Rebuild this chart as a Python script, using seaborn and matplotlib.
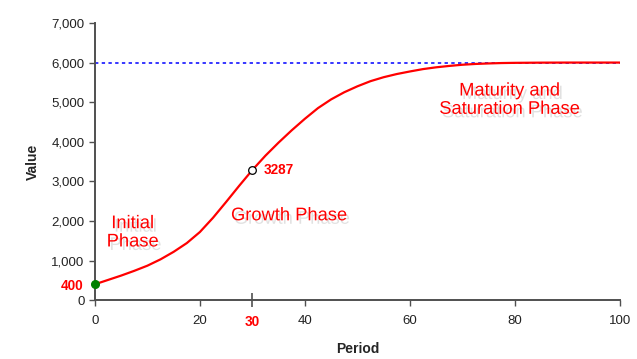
import numpy as np
import pandas as pd
import matplotlib
matplotlib.use('Agg')
import matplotlib.pyplot as plt
import matplotlib.patheffects as pe
from matplotlib.ticker import FuncFormatter
import seaborn as sns

# values
periods = [0, 2.5, 5, 7.5, 10, 12.5, 15, 17.5, 20, 22.5, 25, 27.5, 30,
           32.5, 35, 37.5, 40, 42.5, 45, 47.5, 50, 52.5, 55, 57.5, 60,
           62.5, 65, 67.5, 70, 72.5, 75, 77.5, 80, 85, 90, 95, 100]
values = [400, 510, 620, 740, 870, 1030, 1220, 1440, 1720, 2080, 2480, 2890, 3287,
          3650, 3980, 4290, 4580, 4850, 5070, 5250, 5400, 5530, 5630, 5710, 5775,
          5835, 5880, 5915, 5945, 5965, 5978, 5988, 5993, 5998, 6000, 6000, 6000]
saturation = 6000
start_period, start_value = 0, 400
mid_period, mid_value = 30, 3287

phase_labels = ["Initial\nPhase", "Growth Phase", "Maturity and\nSaturation Phase"]
phase_pos = [(7.2, 1700), (37, 2130), (79, 5050)]

sns.set_theme(style='white')
plt.rcParams['font.family'] = ['Liberation Sans', 'DejaVu Sans']

df = pd.DataFrame({'period': periods, 'value': values})

fig = plt.figure(figsize=(6.37, 3.59), dpi=100)
ax = fig.add_axes([0.149, 0.164, 0.824, 0.772])

sns.lineplot(data=df, x='period', y='value', color='red', linewidth=1.6, ax=ax)
ax.axhline(saturation, color='#0000ff', linestyle=(0, (2.2, 2.2)), linewidth=1.1, zorder=1)

ax.plot([start_period], [start_value], 'o', color='#008000', markersize=5.5, zorder=5, clip_on=False)
ax.plot([mid_period], [mid_value], 'o', markerfacecolor='white', markeredgecolor='black',
        markersize=5.5, markeredgewidth=0.9, zorder=5)
ax.annotate(str(mid_value), (mid_period, mid_value), xytext=(8, 0), textcoords='offset points',
            color='red', fontsize=9.8, fontweight='bold', va='center')

shadow = [pe.SimplePatchShadow(offset=(2, -2.5), shadow_rgbFace='#aaaaaa', alpha=0.35), pe.Normal()]
for lbl, (px, py) in zip(phase_labels, phase_pos):
    ax.text(px, py, lbl, color='red', fontsize=13.2, ha='center', va='center',
            linespacing=1.1, path_effects=shadow)

ax.set_xlim(0, 100)
ax.set_ylim(0, 7000)
ax.set_xticks([0, 20, 40, 60, 80, 100])
ax.set_yticks(range(0, 7001, 1000))
ax.yaxis.set_major_formatter(FuncFormatter(lambda v, p: f"{int(v):,}"))

# highlighted ticks
ax.set_xticks([mid_period], minor=True)
ax.set_xticklabels([str(mid_period)], minor=True)
ax.set_yticks([start_value], minor=True)
ax.set_yticklabels([str(start_value)], minor=True)

spine_col = '#505050'
for s in ['top', 'right']:
    ax.spines[s].set_visible(False)
for s in ['left', 'bottom']:
    ax.spines[s].set_color(spine_col)
    ax.spines[s].set_linewidth(1.4)

ax.tick_params(which='major', direction='out', length=4, width=1, color=spine_col,
               labelsize=9.5, labelcolor='#222222', left=True, bottom=True)
ax.tick_params(axis='x', which='major', pad=6.5)
ax.tick_params(axis='x', which='minor', direction='inout', length=10, width=1.2, color=spine_col,
               labelsize=9.8, labelcolor='red', pad=6, bottom=True)
ax.tick_params(axis='y', which='minor', length=0, labelsize=9.8, labelcolor='red', pad=8.5, left=True)
for t in ax.get_xticklabels(minor=True) + ax.get_yticklabels(minor=True):
    t.set_fontweight('bold')

ax.set_xlabel('Period', fontsize=10, fontweight='bold', labelpad=9)
ax.set_ylabel('Value', fontsize=10, fontweight='bold', labelpad=8)

fig.savefig('out.png', dpi=100)
